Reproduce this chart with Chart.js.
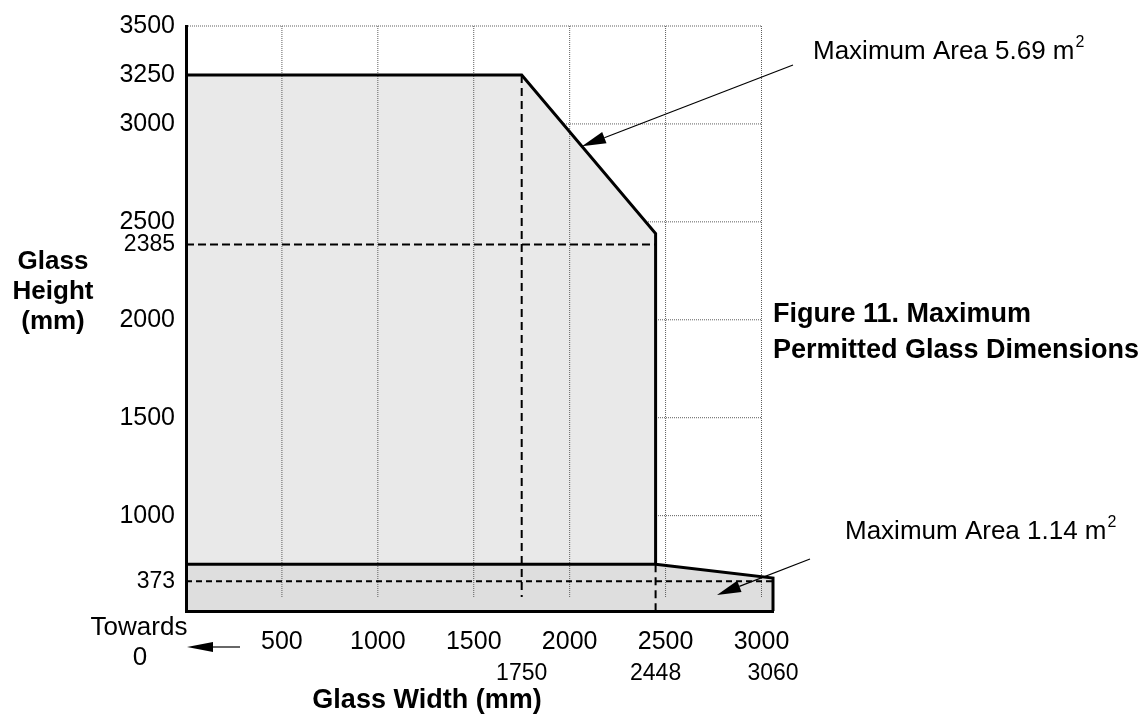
<!DOCTYPE html>
<html>
<head>
<meta charset="utf-8">
<title>Figure 11. Maximum Permitted Glass Dimensions</title>
<script src="https://cdn.jsdelivr.net/npm/chart.js@4.4.0/dist/chart.umd.min.js"></script>
<style>
    html, body { margin: 0; padding: 0; background: #fff; }
    #wrap { width: 1142px; height: 722px; }
</style>
</head>
<body>
<div id="wrap"><canvas id="myChart"></canvas></div>
<script>
    // Data-----
    const widthTicks = [500, 1000, 1500, 2000, 2500, 3000];
    const widthMarks = [1750, 2448, 3060];
    const heightTicks = [3500, 3250, 3000, 2500, 2000, 1500, 1000];
    const heightMarks = [2385, 373];
    const gridHeights = [3500, 3000, 2500, 2000, 1500, 1000];

    // large panes: outline from the top left corner round to the right edge
    const upperWidth = [0, 1750, 2448, 2448];
    const upperHeight = [3250, 3250, 2440, 466];
    // narrow strip along the bottom
    const lowerWidth = [0, 2448, 3060, 3060];
    const lowerHeight = [466, 466, 390, 0];
    // Data-----

    const FONT = "'Liberation Sans', Arial, Helvetica, sans-serif";
    Chart.defaults.font.family = FONT;
    Chart.defaults.color = '#000';

    // Scale-----
    // the drawing squeezes everything below 1000 mm into a thin band
    const axisBreaks = {
        x: [[0, 0], [3060, 1]],
        y: [[0, 0], [373, 0.051], [466, 0.08], [1000, 0.163], [3500, 1]]
    };

    function toFrac(b, v) {
        let i = 1;
        while (i < b.length - 1 && v > b[i][0]) i++;
        const [v0, f0] = b[i - 1], [v1, f1] = b[i];
        return f0 + (v - v0) * (f1 - f0) / (v1 - v0);
    }
    function fromFrac(b, f) {
        let i = 1;
        while (i < b.length - 1 && f > b[i][1]) i++;
        const [v0, f0] = b[i - 1], [v1, f1] = b[i];
        return v0 + (f - f0) * (v1 - v0) / (f1 - f0);
    }

    class BrokenScale extends Chart.LinearScale {
        getPixelForValue(value) {
            if (value === null || value === undefined || isNaN(value)) return NaN;
            return this.getPixelForDecimal(toFrac(axisBreaks[this.axis], value));
        }
        getValueForPixel(pixel) {
            return fromFrac(axisBreaks[this.axis], this.getDecimalForPixel(pixel));
        }
    }
    BrokenScale.id = 'broken';
    BrokenScale.defaults = Chart.LinearScale.defaults;
    Chart.register(BrokenScale);
    // Scale-----

    // Datasets-----
    const pts = (xs, ys) => xs.map((v, i) => ({x: v, y: ys[i]}));
    const gridTop = heightTicks[0];
    const gridRight = widthTicks[widthTicks.length - 1];
    const gridFoot = 175;

    const hGrid = gridHeights.flatMap(h => [{x: 0, y: h}, {x: gridRight, y: h}, {x: gridRight, y: null}]);
    const vGrid = widthTicks.flatMap(w => [{x: w, y: gridTop}, {x: w, y: gridFoot}, {x: w, y: null}]);

    const dashV = [
        {x: widthMarks[0], y: upperHeight[0]}, {x: widthMarks[0], y: gridFoot}, {x: widthMarks[0], y: null},
        {x: widthMarks[1], y: lowerHeight[0]}, {x: widthMarks[1], y: 0}
    ];
    const dashTop = [{x: 0, y: heightMarks[0]}, {x: widthMarks[1], y: heightMarks[0]}];
    const dashLow = [{x: 0, y: heightMarks[1]}, {x: widthMarks[2], y: heightMarks[1]}];

    const line = (data, extra) => Object.assign({
        data, showLine: true, fill: false, pointRadius: 0, tension: 0, clip: false,
        borderColor: '#000', borderWidth: 2, borderJoinStyle: 'miter'
    }, extra);

    const datasets = [
        line(hGrid, {borderColor: '#5e5e5e', borderWidth: 1, borderDash: [1, 1], order: 7}),
        line(pts(lowerWidth, lowerHeight), {fill: 'origin', backgroundColor: '#dedede', borderColor: 'rgba(0,0,0,0)', order: 6}),
        line(pts(upperWidth, upperHeight), {fill: {value: lowerHeight[0]}, backgroundColor: '#e9e9e9', borderColor: 'rgba(0,0,0,0)', order: 5}),
        line(vGrid, {borderColor: '#5e5e5e', borderWidth: 1, borderDash: [1, 1], order: 4}),
        line(dashV, {borderDash: [8, 5], order: 3}),
        line(dashTop, {borderDash: [8, 4], order: 3}),
        line(dashLow, {borderDash: [6, 4], order: 3}),
        line(pts(upperWidth, upperHeight), {borderWidth: 3, order: 1}),
        line(pts(lowerWidth, lowerHeight), {borderWidth: 3, order: 1})
    ];
    // Datasets-----

    // Notes-----
    function arrow(ctx, x0, y0, x1, y1, len, half) {
        const a = Math.atan2(y1 - y0, x1 - x0);
        const bx = x1 - len * Math.cos(a), by = y1 - len * Math.sin(a);
        ctx.beginPath();
        ctx.moveTo(x0, y0);
        ctx.lineTo(bx, by);
        ctx.stroke();
        ctx.beginPath();
        ctx.moveTo(x1, y1);
        ctx.lineTo(bx + half * Math.sin(a), by - half * Math.cos(a));
        ctx.lineTo(bx - half * Math.sin(a), by + half * Math.cos(a));
        ctx.closePath();
        ctx.fill();
    }

    function areaLabel(ctx, text, x, y) {
        ctx.font = '26px ' + FONT;
        ctx.textAlign = 'left';
        ctx.fillText(text, x, y);
        const w = ctx.measureText(text).width;
        ctx.font = '16px ' + FONT;
        ctx.fillText('2', x + w + 1, y - 9);
    }

    const notes = {
        id: 'notes',
        afterDraw(chart) {
            const {ctx, scales: {x, y}} = chart;
            ctx.save();
            ctx.fillStyle = '#000';
            ctx.strokeStyle = '#000';
            ctx.textBaseline = 'middle';

            ctx.font = 'bold 26px ' + FONT;
            ctx.textAlign = 'center';
            ['Glass', 'Height', '(mm)'].forEach((t, i) => ctx.fillText(t, 53, 262 + i * 30));
            ctx.font = 'bold 27px ' + FONT;
            ctx.fillText('Glass Width (mm)', 427, 701);

            ctx.textAlign = 'left';
            ctx.fillText('Figure 11. Maximum', 773, 315);
            ctx.fillText('Permitted Glass Dimensions', 773, 351);

            ctx.font = '26px ' + FONT;
            ctx.textAlign = 'center';
            ctx.fillText('Towards', 139, 628);
            ctx.fillText('0', 140, 658);

            areaLabel(ctx, 'Maximum Area 5.69 m', 813, 52);
            areaLabel(ctx, 'Maximum Area 1.14 m', 845, 532);

            ctx.lineWidth = 1.2;
            // tip sits on the sloping edge of the large-pane outline
            const t = 0.45;
            const tipW = upperWidth[1] + t * (upperWidth[2] - upperWidth[1]);
            const tipH = upperHeight[1] + t * (upperHeight[2] - upperHeight[1]);
            arrow(ctx, 793, 65, x.getPixelForValue(tipW), y.getPixelForValue(tipH), 24, 6);
            arrow(ctx, 810, 559, x.getPixelForValue(2768), y.getPixelForValue(200), 24, 6);
            arrow(ctx, 240, 647, x.getPixelForValue(0) + 1, 647, 26, 5);
            ctx.restore();
        }
    };
    // Notes-----

    // Config-----
    const config = {
        type: 'scatter',
        data: {datasets},
        options: {
            responsive: true,
            maintainAspectRatio: false,
            animation: false,
            events: [],
            layout: {padding: {top: 22, right: 369, bottom: 0, left: 0}},
            plugins: {legend: {display: false}, tooltip: {enabled: false}},
            scales: {
                x: {
                    type: 'broken',
                    min: 0,
                    max: 3060,
                    grid: {display: false, drawTicks: false},
                    border: {display: true, color: '#000', width: 3, z: 1},
                    afterBuildTicks: s => {
                        s.ticks = [...widthTicks, ...widthMarks].sort((a, b) => a - b).map(v => ({value: v}));
                    },
                    afterFit: s => { s.height = 111; },
                    ticks: {
                        autoSkip: false,
                        maxRotation: 0,
                        minRotation: 0,
                        padding: 16,
                        color: '#000',
                        callback: v => widthMarks.includes(v) ? ['', String(v)] : String(v),
                        font: c => widthMarks.includes(c.tick && c.tick.value)
                            ? {size: 23, lineHeight: 1.35}
                            : {size: 25, lineHeight: 1.2}
                    }
                },
                y: {
                    type: 'broken',
                    min: 0,
                    max: 3500,
                    grid: {display: false, drawTicks: false},
                    border: {display: true, color: '#000', width: 3, z: 1},
                    afterBuildTicks: s => {
                        s.ticks = [...heightTicks, ...heightMarks].sort((a, b) => a - b).map(v => ({value: v}));
                    },
                    afterFit: s => { s.width = 186; },
                    ticks: {
                        autoSkip: false,
                        padding: 11,
                        color: '#000',
                        callback: v => String(v),
                        font: c => heightMarks.includes(c.tick && c.tick.value) ? {size: 23} : {size: 25}
                    }
                }
            }
        },
        plugins: [notes]
    };
    // Config-----

    var myChart = new Chart(
        document.getElementById('myChart'),
        config
    );
</script>
</body>
</html>
